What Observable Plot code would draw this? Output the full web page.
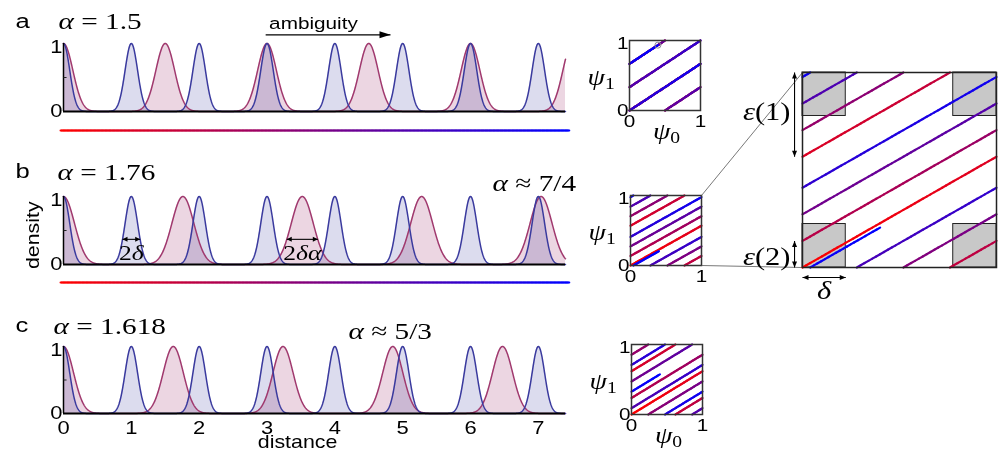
<!DOCTYPE html>
<html>
<head>
<meta charset="utf-8">
<script src="https://cdn.jsdelivr.net/npm/d3@7"></script>
<script src="https://cdn.jsdelivr.net/npm/@observablehq/plot@0.6"></script>
<style>
  html, body { margin: 0; padding: 0; background: #fff; }
  #fig { position: relative; width: 1007px; height: 451px; overflow: hidden; background: #fff; }
</style>
</head>
<body>
<div id="fig"></div>
<script>
// ---------------- data ----------------
const distanceMax = 7.4;
const delta = 0.13;
const blueCenters = [0, 1, 2, 3, 4, 5, 6, 7];
const alphaValues = [1.5, 1.76, 1.618];
const pinkCentersA = [0, 1.5, 3, 4.5, 6, 7.5];
const pinkCentersB = [0, 1.76, 3.52, 5.28, 7.04];
const pinkCentersC = [0, 1.618, 3.236, 4.854, 6.472];
const pinkCenters = [pinkCentersA, pinkCentersB, pinkCentersC];
const panelLetters = ["a", "b", "c"];
const alphaLabels = ["α = 1.5", "α = 1.76", "α = 1.618"];
const approxLabels = ["", "α ≈ 7/4", "α ≈ 5/3"];
const distanceTicks = [0, 1, 2, 3, 4, 5, 6, 7];
const densityTicks = [0, 1];
const unitTicks = [0, 1];
const cornerBox = 0.223;
const epsilonOne = [0.568, 1];
const epsilonTwo = [0, 0.136];

// ---------------- layout ----------------
const SANS = "'Liberation Sans', Arial, sans-serif";
const SERIF = "'Liberation Serif', 'Times New Roman', serif";
const STRETCH = 1.22;
const LAYOUT = {
  x0: 63, x1: 565, width: 600,
  density: [
    {top: 0,   h: 150, y1: 43,  y0: 111, letter: [-0.708, 1.235], alpha: [-0.074, 1.206], approx: null, grad: -0.279},
    {top: 150, h: 150, y1: 196, y0: 264, letter: [-0.708, 1.279], alpha: [-0.088, 1.25], approx: [6.324, 1.088], grad: -0.265},
    {top: 300, h: 151, y1: 346, y0: 413, letter: [-0.708, 1.209], alpha: [-0.147, 1.194], approx: [4.2, 1.119], grad: null}
  ],
  squares: [
    {left: 580, top: 20,  w: 140, h: 135, box: [629, 40, 700, 110], psi0: true},
    {left: 580, top: 175, w: 140, h: 125, box: [630, 195, 701, 265], psi0: false},
    {left: 580, top: 320, w: 140, h: 131, box: [631, 344, 702, 414], psi0: true}
  ],
  big: {left: 720, top: 50, w: 287, h: 260, box: [802, 72, 996, 267]}
};

const colorScale = {type: "linear", domain: [0, distanceMax], range: ["#ff0000", "#0000ff"], interpolate: "rgb", clamp: true};

// ---------------- helpers ----------------
const xs = d3.range(0, Math.round(distanceMax / 0.005) + 1).map(i => i * 0.005);
function peaks(centers, w) {
  return xs.map(x => ({x, y: d3.sum(centers, c => Math.exp(-(((x - c) / w) ** 2)))}));
}

function trajectory(alpha) {
  const br = new Set([0, distanceMax]);
  for (let k = 1; k < distanceMax; k++) br.add(k);
  for (let k = 1; k * alpha < distanceMax; k++) br.add(+(k * alpha).toFixed(10));
  const b = [...br].sort((p, q) => p - q);
  const segs = [];
  for (let i = 0; i < b.length - 1; i++) {
    const a0 = b[i], a1 = b[i + 1];
    if (a1 - a0 < 1e-9) continue;
    const mid = (a0 + a1) / 2, f0 = Math.floor(mid), f1 = Math.floor(mid / alpha);
    const n = Math.max(1, Math.ceil((a1 - a0) / 0.02));
    for (let j = 0; j < n; j++) {
      const s = a0 + (a1 - a0) * j / n, e = a0 + (a1 - a0) * (j + 1) / n;
      segs.push({x1: s - f0, y1: s / alpha - f1, x2: e - f0, y2: e / alpha - f1, d: (s + e) / 2});
    }
  }
  return segs;
}

function T(x, y, t, o = {}) {
  return Plot.text([{x, y, t}], {x: "x", y: "y", text: "t", fontFamily: SANS, fill: "black", ...o});
}

function head(dir, L, W) {
  const [ux, uy] = dir, px = -uy, py = ux;
  return {draw(c) {
    c.moveTo(0, 0);
    c.lineTo(-L * ux + W * px, -L * uy + W * py);
    c.lineTo(-L * ux - W * px, -L * uy - W * py);
    c.closePath();
  }};
}
function hArrow(x1, x2, y, {both = true, L = 5, W = 2.5, sw = 1.1} = {}) {
  const m = [Plot.link([{x1, x2, y}], {x1: "x1", x2: "x2", y1: "y", y2: "y", stroke: "black", strokeWidth: sw})];
  m.push(Plot.dot([{x: x2, y}], {x: "x", y: "y", symbol: head([1, 0], L, W), fill: "black", stroke: "none"}));
  if (both) m.push(Plot.dot([{x: x1, y}], {x: "x", y: "y", symbol: head([-1, 0], L, W), fill: "black", stroke: "none"}));
  return m;
}
function vArrow(x, y1, y2, {L = 6, W = 2.5, sw = 1.1} = {}) {
  return [
    Plot.link([{x, y1, y2}], {x1: "x", x2: "x", y1: "y1", y2: "y2", stroke: "black", strokeWidth: sw}),
    Plot.dot([{x, y: y2}], {x: "x", y: "y", symbol: head([0, -1], L, W), fill: "black", stroke: "none"}),
    Plot.dot([{x, y: y1}], {x: "x", y: "y", symbol: head([0, 1], L, W), fill: "black", stroke: "none"})
  ];
}

const NS = "http://www.w3.org/2000/svg";
function mathify(t, s) {
  while (t.firstChild) t.removeChild(t.firstChild);
  for (let i = 0; i < s.length; i++) {
    const ts = document.createElementNS(NS, "tspan");
    if (s[i] === "_") {
      ts.textContent = s[++i];
      ts.setAttribute("font-size", "70%");
      ts.setAttribute("dy", "0.3em");
    } else {
      ts.textContent = s[i];
      if (/[αδψε]/.test(s[i])) ts.setAttribute("font-style", "italic");
    }
    t.appendChild(ts);
  }
}
function finish(svg) {
  svg.querySelectorAll("text").forEach(t => {
    const s = t.textContent;
    if (/[αδψε≈_]/.test(s)) mathify(t, s);
    let tr = t.getAttribute("transform") || "";
    const x = t.getAttribute("x"), y = t.getAttribute("y");
    if (x != null && x !== "" && !isNaN(+x)) {
      const yy = (y != null && y !== "" && !isNaN(+y)) ? +y : 0;
      tr = `translate(${x},${yy}) ` + tr;
      t.removeAttribute("x");
      if (yy) t.removeAttribute("y");
    }
    t.setAttribute("transform", tr + ` scale(${STRETCH},1)`);
  });
}
const fig = document.getElementById("fig");
function mount(svg, left, top) {
  Object.assign(svg.style, {position: "absolute", left: left + "px", top: top + "px",
    background: "transparent", overflow: "visible", maxWidth: "none"});
  finish(svg);
  fig.appendChild(svg);
}

// ---------------- density panels ----------------
alphaValues.forEach((alpha, i) => {
  const c = LAYOUT.density[i];
  const blue = peaks(blueCenters, delta);
  const pink = peaks(pinkCenters[i], delta * alpha);
  const marks = [
    Plot.areaY(pink, {x: "x", y: "y", fill: "#ecd6e2", mixBlendMode: "multiply"}),
    Plot.areaY(blue, {x: "x", y: "y", fill: "#dcdcee", mixBlendMode: "multiply"}),
    Plot.lineY(pink, {x: "x", y: "y", stroke: "#a0396e", strokeWidth: 1.5}),
    Plot.lineY(blue, {x: "x", y: "y", stroke: "#3a3a9e", strokeWidth: 1.5}),
    Plot.ruleY([0], {y: d => d, x1: () => 0, x2: () => distanceMax, stroke: "black", strokeWidth: 1.8}),
    Plot.ruleX([0], {x: d => d, y1: () => 0, y2: () => 1, stroke: "black", strokeWidth: 1.5}),
    Plot.link([0.5], {x1: () => 0, x2: () => 0.045, y1: d => d, y2: d => d, stroke: "#222", strokeWidth: 1}),
    Plot.text(densityTicks, {x: () => 0, y: d => d === 1 ? 0.95 : 0, text: d => String(d),
      textAnchor: "end", lineAnchor: "middle", dx: -1, fontSize: 18, fontFamily: SANS, fill: "black"}),
    T(c.letter[0], c.letter[1], panelLetters[i], {fontSize: 21, textAnchor: "start", lineAnchor: "bottom"}),
    T(c.alpha[0], c.alpha[1], alphaLabels[i], {fontFamily: SERIF, fontSize: 24, textAnchor: "start", lineAnchor: "bottom"})
  ];
  if (c.approx) marks.push(T(c.approx[0], c.approx[1], approxLabels[i], {fontFamily: SERIF, fontSize: 24, textAnchor: "start", lineAnchor: "bottom"}));
  if (c.grad != null) {
    const segs = d3.range(0, 375).map(k => {
      const s = -0.044 + k * 0.02;
      return {x1: s, x2: s + 0.02, y: c.grad, d: s + 0.01};
    });
    marks.push(Plot.link(segs, {x1: "x1", x2: "x2", y1: "y", y2: "y", stroke: "d", strokeWidth: 2, strokeLinecap: "round"}));
  }
  if (i === 0) {
    marks.push(T(3.685, 1.22, "ambiguity", {fontSize: 17, textAnchor: "middle", lineAnchor: "bottom"}));
    marks.push(...hArrow(2.98, 4.82, 1.127, {both: false, L: 11, W: 3.5, sw: 1.2}));
  }
  if (i === 1) {
    marks.push(T(-0.45, 0.43, "density", {fontSize: 17.5, rotate: -90, textAnchor: "middle", lineAnchor: "middle"}));
    marks.push(...hArrow(1 - delta, 1 + delta, 0.37));
    marks.push(...hArrow(pinkCentersB[2] - delta * alpha, pinkCentersB[2] + delta * alpha, 0.37));
    marks.push(T(1, 0.06, "2δ", {fontFamily: SERIF, fontSize: 21, textAnchor: "middle", lineAnchor: "bottom"}));
    marks.push(T(pinkCentersB[2], 0.06, "2δα", {fontFamily: SERIF, fontSize: 21, textAnchor: "middle", lineAnchor: "bottom"}));
  }
  if (i === 2) {
    marks.push(Plot.text(distanceTicks, {x: d => d, y: () => -0.3, text: d => String(d), textAnchor: "middle",
      lineAnchor: "bottom", fontSize: 18, fontFamily: SANS, fill: "black"}));
    marks.push(T(3.45, -0.52, "distance", {fontSize: 17.5, textAnchor: "middle", lineAnchor: "bottom"}));
  }
  const svg = Plot.plot({
    width: LAYOUT.width, height: c.h,
    marginLeft: LAYOUT.x0, marginRight: LAYOUT.width - LAYOUT.x1,
    marginTop: c.y1 - c.top, marginBottom: c.top + c.h - c.y0,
    x: {domain: [0, distanceMax], axis: null},
    y: {domain: [0, 1], axis: null},
    color: colorScale,
    marks
  });
  mount(svg, 0, c.top);
});

// ---------------- torus squares ----------------
function squareMarks(alpha) {
  return Plot.link(trajectory(alpha), {x1: "x1", y1: "y1", x2: "x2", y2: "y2", stroke: "d", strokeWidth: 2.2, strokeLinecap: "round"});
}
LAYOUT.squares.forEach((s, i) => {
  const alpha = alphaValues[i];
  const [bx0, by0, bx1, by1] = s.box;
  const marks = [
    squareMarks(alpha),
    Plot.frame({stroke: "#333", strokeWidth: 1.5}),
    Plot.text(unitTicks, {x: () => 0, y: d => d === 1 ? 0.95 : 0, text: d => String(d), textAnchor: "end",
      lineAnchor: "middle", dx: -1, fontSize: 17, fontFamily: SANS, fill: "black"}),
    Plot.text(unitTicks, {x: d => d, y: () => 0, text: d => String(d), textAnchor: d => d === 0 ? "start" : "middle",
      lineAnchor: "top", dy: 4, fontSize: 17, fontFamily: SANS, fill: "black"}),
    T(-0.59, 0.37, "ψ_1", {fontFamily: SERIF, fontSize: 23, textAnchor: "start", lineAnchor: "bottom"})
  ];
  if (s.psi0) marks.push(T(0.33, -0.40, "ψ_0", {fontFamily: SERIF, fontSize: 23, textAnchor: "start", lineAnchor: "bottom"}));
  if (i === 0) {
    const endPt = {x: distanceMax % 1, y: (distanceMax / alpha) % 1};
    marks.push(Plot.dot([endPt], {x: "x", y: "y", r: 3, stroke: "#8a8a9a", strokeWidth: 1, fill: "none"}));
  }
  const svg = Plot.plot({
    width: s.w, height: s.h,
    marginLeft: bx0 - s.left, marginRight: s.left + s.w - bx1,
    marginTop: by0 - s.top, marginBottom: s.top + s.h - by1,
    x: {domain: [0, 1], axis: null}, y: {domain: [0, 1], axis: null},
    color: colorScale,
    marks
  });
  mount(svg, s.left, s.top);
});

// ---------------- magnified square (panel b) ----------------
(() => {
  const g = LAYOUT.big;
  const [bx0, by0, bx1, by1] = g.box;
  const sb = LAYOUT.squares[1].box;
  const toBig = (px, py) => [(px - bx0) / (bx1 - bx0), (by1 - py) / (by1 - by0)];
  const [cxa, cya] = toBig(sb[2], sb[1]);
  const [cxb, cyb] = toBig(sb[2], sb[3]);
  const connectors = [
    {x1: cxa, y1: cya, x2: 0, y2: 1},
    {x1: cxb, y1: cyb, x2: 0, y2: 0}
  ];
  const corners = [[0, 0], [1 - cornerBox, 0], [0, 1 - cornerBox], [1 - cornerBox, 1 - cornerBox]]
    .map(([x, y]) => ({x1: x, x2: x + cornerBox, y1: y, y2: y + cornerBox}));
  const marks = [
    Plot.link(connectors, {x1: "x1", y1: "y1", x2: "x2", y2: "y2", stroke: "#555", strokeWidth: 0.8}),
    Plot.rect(corners, {x1: "x1", x2: "x2", y1: "y1", y2: "y2", fill: "#c8c8c8", stroke: "#222", strokeWidth: 1}),
    Plot.link(trajectory(alphaValues[1]), {x1: "x1", y1: "y1", x2: "x2", y2: "y2", stroke: "d", strokeWidth: 2.2, strokeLinecap: "round"}),
    Plot.frame({stroke: "#222", strokeWidth: 1.5}),
    ...vArrow(-0.041, epsilonOne[0], epsilonOne[1]),
    ...vArrow(-0.041, epsilonTwo[0], epsilonTwo[1]),
    ...hArrow(0, cornerBox, -0.051, {L: 6, W: 2.5}),
    T(-0.062, 0.80, "ε(1)", {fontFamily: SERIF, fontSize: 25, textAnchor: "end", lineAnchor: "middle"}),
    T(-0.062, 0.056, "ε(2)", {fontFamily: SERIF, fontSize: 25, textAnchor: "end", lineAnchor: "middle"}),
    T(cornerBox / 2, -0.118, "δ", {fontFamily: SERIF, fontSize: 25, textAnchor: "middle", lineAnchor: "middle"})
  ];
  const svg = Plot.plot({
    width: g.w, height: g.h,
    marginLeft: bx0 - g.left, marginRight: g.left + g.w - bx1,
    marginTop: by0 - g.top, marginBottom: g.top + g.h - by1,
    x: {domain: [0, 1], axis: null}, y: {domain: [0, 1], axis: null},
    color: colorScale,
    marks
  });
  mount(svg, g.left, g.top);
})();
</script>
</body>
</html>
